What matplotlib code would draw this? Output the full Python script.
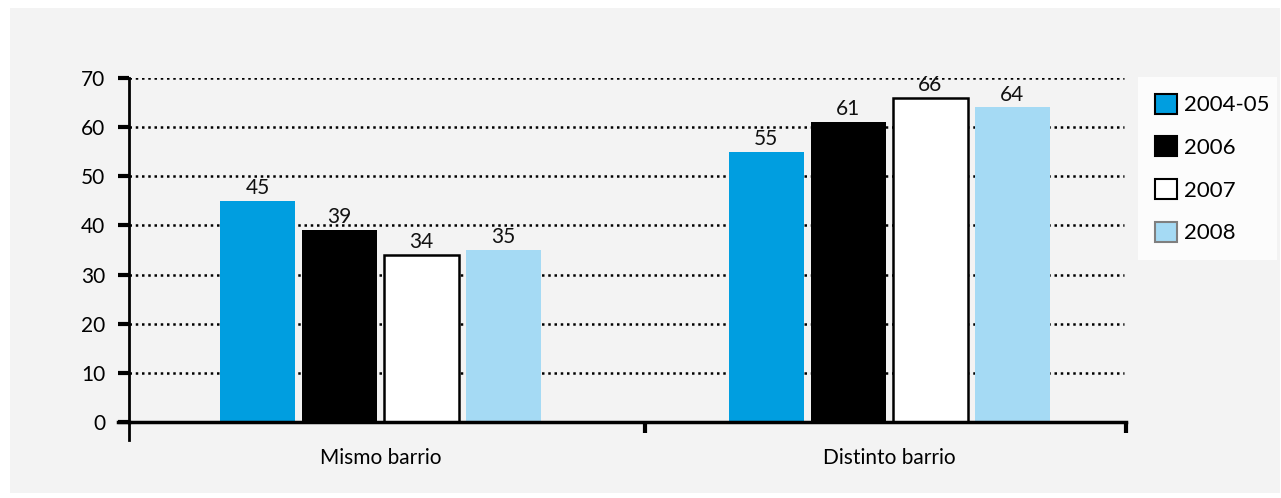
import matplotlib
matplotlib.use("Agg")
import matplotlib.pyplot as plt
from matplotlib.patches import Rectangle, Patch
from matplotlib.lines import Line2D

plt.rcParams['font.family'] = ['Lato', 'DejaVu Sans']

categories = ["Mismo barrio", "Distinto barrio"]
series = ["2004-05", "2006", "2007", "2008"]
values = {
    "2004-05": [45, 55],
    "2006": [39, 61],
    "2007": [34, 66],
    "2008": [35, 64],
}
yticks = [0, 10, 20, 30, 40, 50, 60, 70]

colors = {"2004-05": "#009ee0", "2006": "#000000", "2007": "#ffffff", "2008": "#a5daf4"}
edges = {"2004-05": "none", "2006": "none", "2007": "#000000", "2008": "none"}
leg_edges = {"2004-05": "#000000", "2006": "#000000", "2007": "#000000", "2008": "#7f7f7f"}

W, H = 1281, 498
fig = plt.figure(figsize=(W / 100, H / 100), dpi=100)
fig.patch.set_facecolor("white")
fig.patches.append(Rectangle((10 / W, (H - 493) / H), (W - 11) / W, (493 - 8) / H,
                             transform=fig.transFigure, facecolor="#f3f3f3",
                             edgecolor="none", zorder=-10))

ax = fig.add_axes([129 / W, (H - 422) / H, 997 / W, (422 - 78) / H])
ax.set_facecolor("none")

group_centers = [0.505, 1.525]
bar_w = 0.1505
step = 0.1645
offsets = [-1.5, -0.5, 0.5, 1.5]

for s, off in zip(series, offsets):
    xs = [c + off * step for c in group_centers]
    ax.bar(xs, values[s], width=bar_w, color=colors[s],
           edgecolor=edges[s], linewidth=1.8 if edges[s] != "none" else 0, zorder=3)
    for x, v in zip(xs, values[s]):
        ax.text(x, v + 0.6, f"{v}", ha="center", va="bottom", fontsize=15,
                color="#111111", zorder=4)

ax.set_xlim(0, 2)
ax.set_ylim(0, 70)
ax.set_yticks(yticks)
ax.set_yticklabels([str(t) for t in yticks], fontsize=15)
ax.tick_params(axis="y", direction="out", length=8, width=3, pad=9, colors="black")

for t in yticks[1:]:
    ax.axhline(t, color="black", linestyle=(0, (1.0, 1.5)), linewidth=1.8,
               xmax=0.998, zorder=1)

ax.set_xticks(group_centers)
ax.set_xticklabels(categories, fontsize=15)
ax.tick_params(axis="x", length=0, pad=19)
ax.set_xticks([1.035, 2.0], minor=True)
ax.tick_params(axis="x", which="minor", direction="out", length=8, width=3, colors="black")

for side in ("top", "right"):
    ax.spines[side].set_visible(False)
ax.spines["left"].set_linewidth(2)
ax.spines["bottom"].set_linewidth(2.5)
ax.spines["left"].set_zorder(5)
ax.spines["bottom"].set_zorder(5)
# y axis continues a little below zero, x axis a little left of the y axis
ax.add_line(Line2D([0, 0], [0, -18 / 344 * 70], color="black", linewidth=2,
                   clip_on=False, zorder=5))
ax.add_line(Line2D([-11 / 997 * 2, 0], [0, 0], color="black", linewidth=2.5,
                   clip_on=False, zorder=5))

handles = [Patch(facecolor=colors[s], edgecolor=leg_edges[s], linewidth=1.5) for s in series]
leg = fig.legend(handles, series, loc="upper left",
                 bbox_to_anchor=(1138 / W, (H - 258) / H, 139 / W, 181 / H),
                 mode="expand", fontsize=16, frameon=True, fancybox=False,
                 handlelength=1.0, handleheight=1.0, handletextpad=0.3,
                 labelspacing=0.95, borderpad=0.75, borderaxespad=0)
leg.get_frame().set_facecolor("white")
leg.get_frame().set_edgecolor("none")

fig.savefig("out.png", dpi=100, facecolor=fig.get_facecolor())
